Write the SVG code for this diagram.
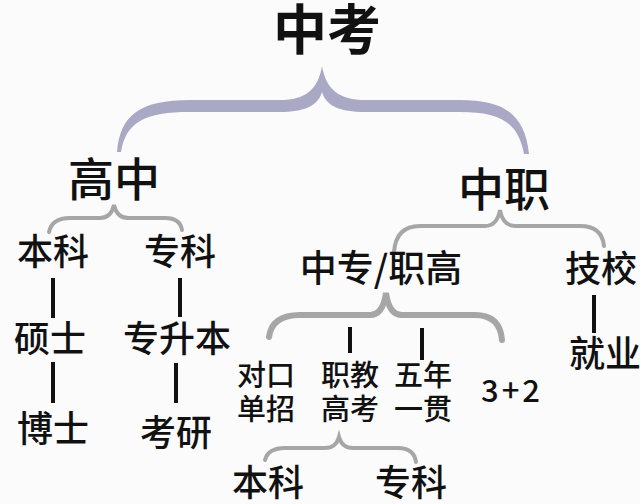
<svg xmlns="http://www.w3.org/2000/svg" width="640" height="504" viewBox="0 0 640 504">
<style>
text{font-family:"Noto Sans CJK SC","Noto Sans",sans-serif;fill:#111;text-anchor:middle;font-weight:500}
.t0{font-size:54px;font-weight:700}
.t1{font-size:46px}
.t2{font-size:36px}
.t3{font-size:29px}
.br{fill:none;stroke:#a6a6a6;stroke-width:4;stroke-linecap:round}
.ln{stroke:#111;stroke-width:4}
</style>
<rect width="640" height="504" fill="#fbfbfc"/>
<g id="connectors">
<path d="M117,152 C120,115 140,100 190,100 L280,100 C305,100 318,90 322,66 C326,90 340,100 365,100 L460,100 C505,100 525,115 529,154 L524,154 C518,122 500,112 460,112 L365,112 C340,112 326,106 322,92 C318,106 304,112 280,112 L190,112 C145,112 126,122 121,152 Z" fill="#a9a9c6"/>
<path class="br" d="M49,232 Q52,218 70,218 L100,218 Q111,218 114,205 Q117,218 128,218 L165,218 Q180,218 182,230"/>
<path class="br" d="M394,252 Q396,226 420,226 L485,226 Q497,226 500,210 Q503,226 515,226 L580,226 Q602,226 604,246"/>
<path class="br" style="stroke-width:6" d="M269,337 Q272,315 300,315 L370,315 Q383,315 386,293 Q389,315 402,315 L475,315 Q500,315 502,340"/>
<path class="br" d="M265,460 Q268,448 285,448 L325,448 Q336,448 339,437 Q342,448 353,448 L398,448 Q414,448 416,462"/>
<line class="ln" x1="53" y1="278" x2="53" y2="318"/>
<line class="ln" x1="53" y1="362" x2="53" y2="403"/>
<line class="ln" x1="180" y1="278" x2="180" y2="317"/>
<line class="ln" x1="176" y1="363" x2="176" y2="403"/>
<line class="ln" x1="594" y1="295" x2="594" y2="333"/>
<line class="ln" x1="350" y1="327" x2="350" y2="353"/>
<line class="ln" x1="422" y1="328" x2="422" y2="360"/>
</g>
<g id="zhongkao"><text class="t0" x="327" y="50">中考</text></g>
<g id="gaozhong"><text class="t1" x="114" y="196">高中</text></g>
<g id="zhongzhi"><text class="t1" x="504" y="206">中职</text></g>
<g id="benke1"><text class="t2" x="53" y="265">本科</text></g>
<g id="zhuanke1"><text class="t2" x="180" y="265">专科</text></g>
<g id="shuoshi"><text class="t2" x="50" y="352">硕士</text></g>
<g id="boshi"><text class="t2" x="53" y="442">博士</text></g>
<g id="zhuanshengben"><text class="t2" x="177" y="352">专升本</text></g>
<g id="kaoyan"><text class="t2" x="176" y="446">考研</text></g>
<g id="zhongzhuan"><text class="t2" style="font-size:37px" x="381" y="282">中专/职高</text></g>
<g id="jixiao"><text class="t2" x="601" y="282">技校</text></g>
<g id="jiuye"><text class="t2" x="605" y="367">就业</text></g>
<g id="duikou"><text class="t3" x="266" y="386">对口</text><text class="t3" x="266" y="420">单招</text></g>
<g id="zhijiao"><text class="t3" x="350" y="386">职教</text><text class="t3" x="350" y="420">高考</text></g>
<g id="wunian"><text class="t3" x="423" y="386">五年</text><text class="t3" x="423" y="420">一贯</text></g>
<g id="sanjiaer"><text class="t3" style="font-size:31px;letter-spacing:3px" x="512" y="402">3+2</text></g>
<g id="benke2"><text class="t2" x="268" y="496">本科</text></g>
<g id="zhuanke2"><text class="t2" x="411" y="496">专科</text></g>
</svg>
